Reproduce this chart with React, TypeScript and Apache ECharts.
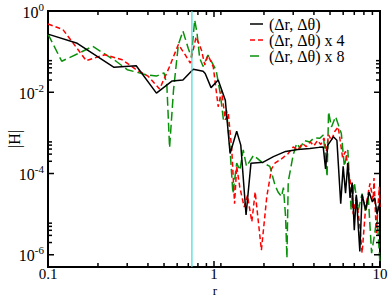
import React, { useEffect, useRef } from "react";
import * as echarts from "echarts";

// ---- data ----
const blackR = [0.1, 0.15, 0.25, 0.34, 0.45, 0.56, 0.65, 0.75, 0.86, 0.885, 0.96, 1.06, 1.17, 1.25, 1.37, 1.45, 1.56, 1.67, 1.98, 2.28, 2.7, 3.2, 3.78, 4.3, 4.55, 4.7, 4.85, 5.24, 5.5, 5.8, 6.0, 6.2, 6.4, 6.6, 6.8, 7.0, 7.2, 7.56, 7.8, 8.2, 8.6, 9.0, 9.3, 9.6, 10];
const blackH = [0.27, 0.16, 0.041, 0.045, 0.0095, 0.019, 0.02, 0.037, 0.033, 0.029, 0.013, 0.02, 0.0064, 0.00031, 0.0011, 0.0005, 9.5e-6, 0.00018, 0.00019, 0.00026, 0.00035, 0.00039, 0.00041, 0.00044, 0.00045, 0.00013, 0.0005, 0.0008, 0.00066, 1.8e-5, 0.00015, 3.3e-5, 1.8e-4, 2.5e-5, 6e-5, 4e-6, 3e-5, 1.2e-6, 3e-5, 1.3e-5, 3.5e-5, 2e-5, 2.5e-5, 1e-5, 2e-5];

const redR = [0.1, 0.123, 0.17, 0.22, 0.28, 0.34, 0.4, 0.47, 0.54, 0.61, 0.67, 0.72, 0.78, 0.84, 0.88, 0.92, 0.99, 1.06, 1.11, 1.17, 1.22, 1.28, 1.33, 1.37, 1.43, 1.52, 1.59, 1.69, 1.77, 1.93, 2.08, 2.22, 2.33, 2.55, 2.8, 3.0, 3.2, 3.4, 3.6, 3.8, 4.0, 4.2, 4.4, 4.6, 4.75, 4.9, 5.1, 5.35, 5.6, 5.75, 5.95, 6.2, 6.4, 6.7, 6.9, 7.2, 7.56, 7.8, 8.2, 8.7, 9.1, 9.2, 9.5, 9.9, 10];
const redH = [0.48, 0.35, 0.06, 0.084, 0.063, 0.036, 0.025, 0.012, 0.043, 0.15, 0.084, 0.052, 0.23, 0.11, 0.047, 0.082, 0.042, 0.0044, 0.011, 0.0021, 0.003, 0.00038, 1.8e-5, 1.5e-4, 4.6e-5, 1.5e-5, 2.9e-5, 6.5e-6, 3.5e-5, 1.3e-6, 2.7e-5, 1.3e-4, 1.8e-4, 2.3e-4, 3.1e-4, 4.5e-4, 3.8e-4, 5.5e-4, 4.6e-4, 6e-4, 4.8e-4, 6.5e-4, 5.2e-4, 7.5e-4, 3.5e-4, 9e-4, 6.5e-4, 1.1e-3, 1.4e-3, 6.6e-4, 2.5e-4, 3.5e-4, 1.5e-4, 4.7e-5, 1e-5, 2.7e-5, 5e-6, 1.1e-6, 1.5e-5, 5.7e-5, 2.2e-5, 7.7e-5, 3.4e-6, 4.7e-5, 1.5e-5];

const greenR = [0.1, 0.121, 0.154, 0.186, 0.223, 0.257, 0.3, 0.39, 0.45, 0.5, 0.52, 0.54, 0.57, 0.61, 0.65, 0.7, 0.73, 0.765, 0.79, 0.82, 0.86, 0.92, 0.99, 1.03, 1.09, 1.14, 1.19, 1.25, 1.3, 1.37, 1.43, 1.5, 1.57, 1.73, 1.94, 2.17, 2.33, 2.43, 2.55, 2.62, 2.7, 2.75, 2.8, 3.0, 3.15, 3.3, 3.5, 3.78, 4.0, 4.34, 4.55, 4.7, 4.8, 4.9, 5.1, 5.4, 5.85, 6.1, 6.4, 6.7, 7.0, 7.4, 7.8, 8.2, 8.5, 8.9, 9.3, 9.6, 10];
const greenH = [0.27, 0.058, 0.092, 0.135, 0.084, 0.058, 0.036, 0.027, 0.025, 0.03, 0.015, 0.00043, 0.011, 0.15, 0.32, 0.12, 0.074, 0.6, 0.29, 0.069, 0.043, 0.082, 0.047, 0.035, 0.0094, 0.0021, 0.0036, 3.8e-4, 3.2e-5, 1.8e-4, 1.2e-4, 3.8e-4, 1.5e-4, 2.8e-4, 1.9e-4, 1.5e-4, 5.2e-5, 3.5e-5, 2.7e-5, 4.5e-5, 8.5e-6, 8.3e-7, 6.3e-5, 2.9e-4, 5.5e-4, 4.2e-4, 6.5e-4, 6e-4, 7.5e-4, 7.4e-4, 8.9e-4, 2.6e-4, 8.3e-5, 3.3e-3, 1.4e-3, 2.5e-3, 9.6e-4, 1.5e-4, 3.8e-4, 1.25e-5, 6e-5, 1.25e-5, 3.2e-5, 1.1e-5, 2.7e-5, 1.1e-6, 3.4e-6, 8.7e-6, 6e-7];

const seriesNames = ["(\u0394r, \u0394\u03b8)", "(\u0394r, \u0394\u03b8) x 4", "(\u0394r, \u0394\u03b8) x 8"];

const xMajor = [0.1, 1, 10];
const xLabels = ["0.1", "1", "10"];
const xMinor = [0.2, 0.3, 0.4, 0.5, 0.6, 0.7, 0.8, 0.9, 1.1, 2, 3, 4, 5, 6, 7, 8, 9];
const yMajor = [1, 1e-2, 1e-4, 1e-6];
const yExp = ["0", "-2", "-4", "-6"];
const yMinor = [2e-2, 3e-2, 4e-2, 5e-2, 6e-2, 2e-4, 3e-4, 4e-4, 5e-4, 6e-4, 2e-6, 3e-6, 4e-6, 5e-6, 6e-6];

const X_MIN = 0.1;
const X_MAX = 10;
const Y_MIN = 5e-7;
const Y_MAX = 1;
const markR = 0.736;

const FONT = "'Liberation Serif', 'Times New Roman', serif";
const zip = (a: number[], b: number[]) => a.map((v, i) => [v, b[i]]);

export default function App() {
  const ref = useRef<HTMLDivElement>(null);
  useEffect(() => {
    if (!ref.current) return;
    const chart = echarts.init(ref.current, undefined, { renderer: "svg" });

    const tickStyle = { stroke: "#000", lineWidth: 1.5 };

    const xTickSeries = (vals: number[], major: boolean) => ({
      type: "custom",
      silent: true,
      z: 10,
      clip: false,
      data: vals.map((v) => [v, Y_MAX]),
      renderItem: (params: any, api: any) => {
        const cs = params.coordSys;
        const x = api.coord([api.value(0), Y_MAX])[0];
        const len = major ? 6 : 4;
        const bottom = cs.y + cs.height;
        const top = cs.y;
        const children: any[] = [
          { type: "line", shape: { x1: x, y1: bottom, x2: x, y2: bottom - len }, style: tickStyle },
          { type: "line", shape: { x1: x, y1: top, x2: x, y2: top + len }, style: tickStyle },
        ];
        if (major) {
          children.push({
            type: "text",
            x: x,
            y: bottom + 7,
            style: {
              text: xLabels[params.dataIndex],
              fill: "#000",
              fontSize: 15,
              lineHeight: 12,
              fontFamily: FONT,
              align: "center",
              verticalAlign: "middle",
            },
          });
        }
        return { type: "group", children };
      },
    });

    const yTickSeries = (vals: number[], major: boolean) => ({
      type: "custom",
      silent: true,
      z: 10,
      clip: false,
      data: vals.map((v) => [X_MIN, v]),
      renderItem: (params: any, api: any) => {
        const cs = params.coordSys;
        const y = api.coord([X_MIN, api.value(1)])[1];
        const len = major ? 6 : 4;
        const left = cs.x;
        const right = cs.x + cs.width;
        const children: any[] = [
          { type: "line", shape: { x1: left, y1: y, x2: left + len, y2: y }, style: tickStyle },
          { type: "line", shape: { x1: right, y1: y, x2: right - len, y2: y }, style: tickStyle },
        ];
        if (major) {
          children.push({
            type: "text",
            x: left - 4,
            y: y + 1,
            style: {
              text: "{b|10}{s|" + yExp[params.dataIndex] + "}",
              fill: "#000",
              fontFamily: FONT,
              align: "right",
              verticalAlign: "middle",
              rich: {
                b: { fontSize: 16, fontFamily: FONT, fill: "#000", lineHeight: 22 },
                s: { fontSize: 11, fontFamily: FONT, fill: "#000", verticalAlign: "top", lineHeight: 12 },
              },
            },
          });
        }
        return { type: "group", children };
      },
    });

    const legendY = [24, 40, 56];
    const legendColors = ["#000000", "#ff0000", "#0a910a"];
    const legendDash: any[] = [null, [5, 3], [9, 4]];

    const graphic: any[] = [];
    seriesNames.forEach((name, i) => {
      graphic.push({
        type: "line",
        shape: { x1: 250, y1: legendY[i], x2: 263, y2: legendY[i] },
        style: { stroke: legendColors[i], lineWidth: 1.5, lineDash: legendDash[i] || undefined },
      });
      graphic.push({
        type: "text",
        x: 269,
        y: legendY[i],
        style: { text: name, fill: "#000", fontSize: 16, fontFamily: FONT, verticalAlign: "middle", align: "left" },
      });
    });
    graphic.push({
      type: "text",
      x: 215,
      y: 290,
      style: { text: "r", fill: "#000", fontSize: 13, lineHeight: 11, fontFamily: FONT, align: "center", verticalAlign: "middle" },
    });
    graphic.push({
      type: "text",
      x: 14,
      y: 139,
      rotation: Math.PI / 2,
      style: { text: "|H|", fill: "#000", fontSize: 16, fontFamily: FONT, align: "center", verticalAlign: "middle" },
    });

    chart.setOption({
      animation: false,
      backgroundColor: "#fff",
      grid: { left: 48, top: 11, right: 10, bottom: 29, show: true, borderColor: "#000", borderWidth: 2, backgroundColor: "transparent" },
      xAxis: {
        type: "log",
        logBase: 10,
        min: X_MIN,
        max: X_MAX,
        axisLine: { show: false },
        axisTick: { show: false },
        axisLabel: { show: false },
        splitLine: { show: false },
        minorTick: { show: false },
      },
      yAxis: {
        type: "log",
        logBase: 10,
        min: Y_MIN,
        max: Y_MAX,
        axisLine: { show: false },
        axisTick: { show: false },
        axisLabel: { show: false },
        splitLine: { show: false },
        minorTick: { show: false },
      },
      series: [
        {
          name: seriesNames[0],
          type: "line",
          data: zip(blackR, blackH),
          showSymbol: false,
          symbol: "none",
          lineStyle: { color: "#000", width: 1.5 },
          z: 4,
        },
        {
          name: seriesNames[1],
          type: "line",
          data: zip(redR, redH),
          showSymbol: false,
          symbol: "none",
          lineStyle: { color: "#ff0000", width: 1.5, type: [5, 3] },
          z: 3,
        },
        {
          name: seriesNames[2],
          type: "line",
          data: zip(greenR, greenH),
          showSymbol: false,
          symbol: "none",
          lineStyle: { color: "#0a910a", width: 1.5, type: [9, 4] },
          z: 2,
        },
        {
          type: "line",
          data: [[markR, Y_MIN], [markR, Y_MAX]],
          showSymbol: false,
          symbol: "none",
          lineStyle: { color: "#40dcd8", width: 1.2 },
          z: 5,
        },
        xTickSeries(xMajor, true),
        xTickSeries(xMinor, false),
        yTickSeries(yMajor, true),
        yTickSeries(yMinor, false),
      ],
      graphic,
    });

    return () => chart.dispose();
  }, []);

  return <div ref={ref} style={{ width: 390, height: 296, position: "absolute", left: 0, top: 0 }} />;
}
